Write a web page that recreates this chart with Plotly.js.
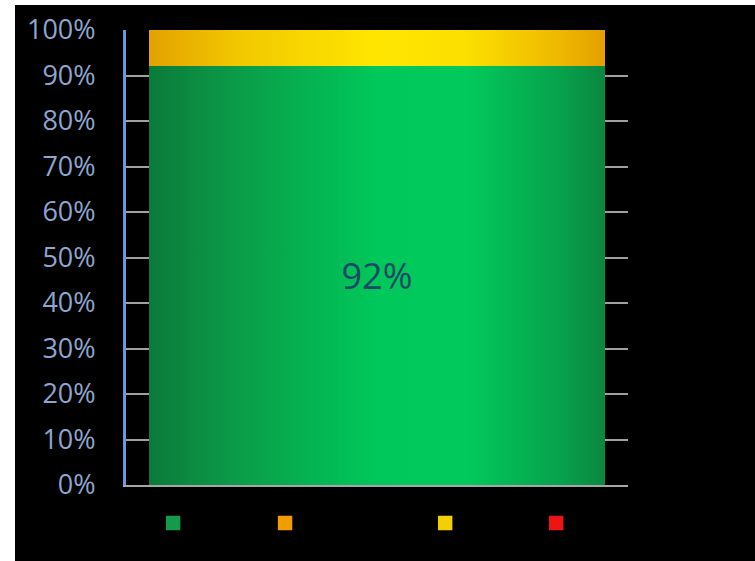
<!DOCTYPE html>
<html>
<head>
<meta charset="utf-8">
<script src="https://cdn.plot.ly/plotly-3.0.1.min.js"></script>
<style>
  html, body { margin: 0; padding: 0; background: #ffffff; }
  #chart { position: absolute; left: 15px; top: 5px; width: 740px; height: 556px; }
</style>
</head>
<body>
<div id="chart"></div>
<script>
// Single stacked column: share of items per status (percent)
const categories = ['Status'];
const greenValues = [92];
const orangeValues = [0];
const yellowValues = [8];
const redValues = [0];
const yTickValues = [0, 10, 20, 30, 40, 50, 60, 70, 80, 90, 100];
const yTickLabels = ['0%', '10%', '20%', '30%', '40%', '50%', '60%', '70%', '80%', '90%', '100%'];

const legendY = -0.0835;

const traces = [
  {
    type: 'bar', x: categories, y: greenValues, name: '',
    marker: { color: '#139a4b', line: { width: 0 } },
    texttemplate: '%{y}%', textposition: 'inside', insidetextanchor: 'middle',
    textfont: { family: 'Open Sans, sans-serif', size: 36, color: '#1b4866' },
    legend: 'legend'
  },
  {
    type: 'bar', x: categories, y: orangeValues, name: '',
    marker: { color: '#f29c00', line: { width: 0 } },
    texttemplate: '', legend: 'legend2'
  },
  {
    type: 'bar', x: categories, y: yellowValues, name: '',
    marker: { color: '#f4cf00', line: { width: 0 } },
    texttemplate: '', legend: 'legend3'
  },
  {
    type: 'bar', x: categories, y: redValues, name: '',
    marker: { color: '#ec1414', line: { width: 0 } },
    texttemplate: '', legend: 'legend4'
  }
];

function legendAt(xPos) {
  return {
    x: xPos, y: legendY, xanchor: 'left', yanchor: 'middle',
    orientation: 'h', bgcolor: 'rgba(0,0,0,0)', borderwidth: 0,
    font: { size: 10, color: '#000000' }, itemwidth: 30
  };
}

const layout = {
  width: 740, height: 556,
  margin: { l: 111, r: 127, t: 25, b: 76 },
  paper_bgcolor: '#000000', plot_bgcolor: '#000000',
  barmode: 'stack', bargap: 0.092,
  showlegend: true,
  legend: legendAt(0.054),
  legend2: legendAt(0.277),
  legend3: legendAt(0.596),
  legend4: legendAt(0.817),
  xaxis: {
    showticklabels: false, ticks: '', showgrid: false, zeroline: false,
    showline: true, linecolor: '#a6a6a6', linewidth: 2, fixedrange: true
  },
  yaxis: {
    range: [0, 100], tickvals: yTickValues, ticktext: yTickLabels,
    showgrid: true, gridcolor: '#a0a0a0', gridwidth: 2, zeroline: false,
    showline: true, linecolor: '#6a98e0', linewidth: 3,
    ticks: '', ticklabelstandoff: 22,
    tickfont: { family: 'Open Sans, sans-serif', size: 27, color: '#8ea6cf' },
    fixedrange: true
  },
  font: { family: 'Open Sans, sans-serif' }
};

function addGradient(defs, id, stops) {
  const ns = 'http://www.w3.org/2000/svg';
  const g = document.createElementNS(ns, 'linearGradient');
  g.setAttribute('id', id);
  g.setAttribute('x1', '0'); g.setAttribute('y1', '0');
  g.setAttribute('x2', '1'); g.setAttribute('y2', '0');
  stops.forEach(function (s) {
    const st = document.createElementNS(ns, 'stop');
    st.setAttribute('offset', s[0]);
    st.setAttribute('stop-color', s[1]);
    g.appendChild(st);
  });
  defs.appendChild(g);
}

Plotly.newPlot('chart', traces, layout, { displayModeBar: false, staticPlot: true }).then(function (gd) {
  const svg = gd.querySelector('.main-svg');
  let defs = svg.querySelector('defs');
  if (!defs) {
    defs = document.createElementNS('http://www.w3.org/2000/svg', 'defs');
    svg.insertBefore(defs, svg.firstChild);
  }
  // cylinder-like shading across each segment
  addGradient(defs, 'shadeGreen', [
    ['0', '#0b7a3a'], ['0.18', '#0b9a47'], ['0.5', '#00c85a'],
    ['0.7', '#02c95b'], ['0.9', '#07a24c'], ['1', '#0b8740']
  ]);
  addGradient(defs, 'shadeYellow', [
    ['0', '#e3a200'], ['0.2', '#f2c800'], ['0.5', '#ffe600'],
    ['0.7', '#fbdf00'], ['0.9', '#eeb800'], ['1', '#e3a000']
  ]);
  const barTraces = gd.querySelectorAll('.barlayer .trace');
  const fills = ['url(#shadeGreen)', null, 'url(#shadeYellow)', null];
  barTraces.forEach(function (t, i) {
    if (!fills[i]) return;
    t.querySelectorAll('.point path').forEach(function (p) {
      p.style.fill = fills[i];
    });
  });
  // slightly larger legend keys, scaled about their own centre
  gd.querySelectorAll('.legendpoints path').forEach(function (p) {
    const base = p.getAttribute('transform') || '';
    p.setAttribute('transform', base + ' scale(1.2)');
  });
});
</script>
</body>
</html>
